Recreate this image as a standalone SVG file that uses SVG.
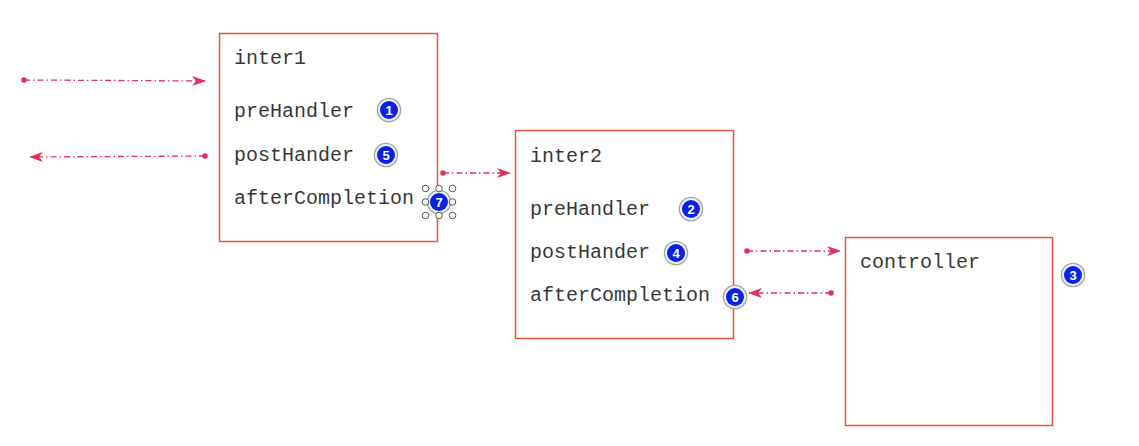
<svg xmlns="http://www.w3.org/2000/svg" width="1139" height="446" viewBox="0 0 1139 446">
<style>
.box{fill:#fff;stroke:#e4563e;stroke-width:1.5}
.t{font-family:"Liberation Mono",monospace;font-size:20px;fill:#383838}
.conn{fill:none;stroke:#e0305e;stroke-width:1.3;stroke-dasharray:6 3 1.5 3}
.dot{fill:#e0305e}
.bo{fill:#9ea3ad}
.bm{fill:#eef0f4}
.bi{fill:#0a22e6}
.bn{font-family:"Liberation Sans",Arial,sans-serif;font-size:13px;font-weight:bold;fill:#fff;text-anchor:middle}
.h{fill:#fff;stroke:#555;stroke-width:1}
</style>
<defs>
<marker id="ah" viewBox="0 0 14 10" refX="13" refY="5" markerWidth="14" markerHeight="10" markerUnits="userSpaceOnUse" orient="auto">
<path d="M0,0 L14,5 L0,10 L4,5 z" fill="#e0305e"/>
</marker>
<g id="badge"><circle r="12.3" class="bo"/><circle r="11" class="bm"/><circle r="9" class="bi"/></g>
</defs>
<rect width="1139" height="446" fill="#fff"/>
<g id="inter1">
<rect class="box" x="219.5" y="33.5" width="218" height="208"/>
<text class="t" x="234" y="64">inter1</text>
<text class="t" x="234" y="117">preHandler</text>
<text class="t" x="234" y="161">postHander</text>
<text class="t" x="234" y="204">afterCompletion</text>
</g>
<g id="inter2">
<rect class="box" x="515.5" y="130.5" width="218" height="208"/>
<text class="t" x="530" y="162">inter2</text>
<text class="t" x="530" y="215">preHandler</text>
<text class="t" x="530" y="258">postHander</text>
<text class="t" x="530" y="301">afterCompletion</text>
</g>
<g id="controller">
<rect class="box" x="845.5" y="237.5" width="207" height="188"/>
<text class="t" x="860" y="268">controller</text>
</g>
<g id="connectors">
<line class="conn" x1="24" y1="80" x2="205" y2="81" marker-end="url(#ah)"/>
<circle class="dot" cx="24" cy="80" r="2.8"/>
<line class="conn" x1="205" y1="156" x2="30" y2="157" marker-end="url(#ah)"/>
<circle class="dot" cx="205" cy="156" r="2.8"/>
<line class="conn" x1="443" y1="173" x2="510" y2="173" marker-end="url(#ah)"/>
<circle class="dot" cx="443" cy="173" r="2.8"/>
<line class="conn" x1="747" y1="251" x2="840" y2="251" marker-end="url(#ah)"/>
<circle class="dot" cx="747" cy="251" r="2.8"/>
<line class="conn" x1="831" y1="293" x2="749" y2="293" marker-end="url(#ah)"/>
<circle class="dot" cx="831" cy="293" r="2.8"/>
</g>
<g id="badge1"><use href="#badge" x="389" y="110"/><text class="bn" x="389" y="114.7">1</text></g>
<g id="badge5"><use href="#badge" x="386" y="155"/><text class="bn" x="386" y="159.7">5</text></g>
<g id="badge7">
<use href="#badge" x="439" y="202"/><text class="bn" x="439" y="206.7">7</text>
<circle class="h" cx="425.5" cy="188.5" r="3.3"/><circle class="h" cx="439" cy="188.5" r="3.3"/><circle class="h" cx="452.5" cy="188.5" r="3.3"/>
<circle class="h" cx="425.5" cy="202" r="3.3"/><circle class="h" cx="452.5" cy="202" r="3.3"/>
<circle class="h" cx="425.5" cy="215.5" r="3.3"/><circle class="h" cx="439" cy="215.5" r="3.3" style="fill:#fff4d0"/><circle class="h" cx="452.5" cy="215.5" r="3.3"/>
</g>
<g id="badge2"><use href="#badge" x="691" y="209"/><text class="bn" x="691" y="213.7">2</text></g>
<g id="badge4"><use href="#badge" x="676" y="253"/><text class="bn" x="676" y="257.7">4</text></g>
<g id="badge6"><use href="#badge" x="735" y="297"/><text class="bn" x="735" y="301.7">6</text></g>
<g id="badge3"><use href="#badge" x="1073" y="275"/><text class="bn" x="1073" y="279.7">3</text></g>
</svg>
